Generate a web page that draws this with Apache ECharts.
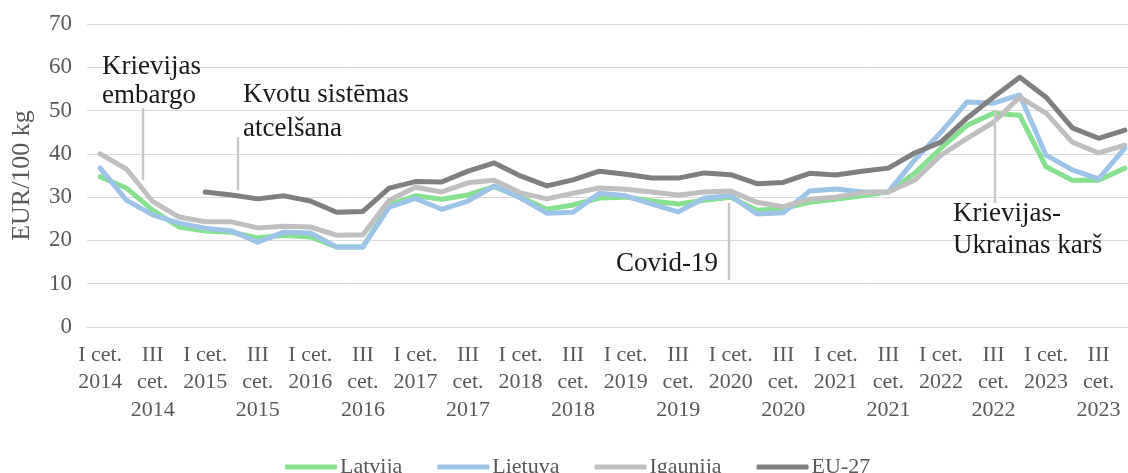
<!DOCTYPE html>
<html>
<head>
<meta charset="utf-8">
<script src="https://cdn.jsdelivr.net/npm/echarts@6/dist/echarts.min.js"></script>
<style>
  html, body { margin: 0; padding: 0; background: #fff; }
  #main { width: 1128px; height: 473px; }
</style>
</head>
<body>
<div id="main"></div>
<script>
// quarterly prices, EUR/100 kg
var quarters = [
  'I cet. 2014', 'II cet. 2014', 'III cet. 2014', 'IV cet. 2014',
  'I cet. 2015', 'II cet. 2015', 'III cet. 2015', 'IV cet. 2015',
  'I cet. 2016', 'II cet. 2016', 'III cet. 2016', 'IV cet. 2016',
  'I cet. 2017', 'II cet. 2017', 'III cet. 2017', 'IV cet. 2017',
  'I cet. 2018', 'II cet. 2018', 'III cet. 2018', 'IV cet. 2018',
  'I cet. 2019', 'II cet. 2019', 'III cet. 2019', 'IV cet. 2019',
  'I cet. 2020', 'II cet. 2020', 'III cet. 2020', 'IV cet. 2020',
  'I cet. 2021', 'II cet. 2021', 'III cet. 2021', 'IV cet. 2021',
  'I cet. 2022', 'II cet. 2022', 'III cet. 2022', 'IV cet. 2022',
  'I cet. 2023', 'II cet. 2023', 'III cet. 2023', 'IV cet. 2023'
];
var latvija = [34.7, 32.1, 27.0, 23.1, 22.2, 21.9, 20.6, 21.2, 20.8, 18.5, 18.5, 28.2,
  30.3, 29.5, 30.5, 32.4, 30.0, 27.2, 28.2, 29.8, 30.0, 29.1, 28.4, 29.3,
  30.0, 27.0, 27.4, 28.8, 29.5, 30.3, 31.2, 35.5, 41.3, 46.6, 49.4, 48.9,
  37.0, 33.9, 33.9, 36.7];
var lietuva = [36.7, 29.3, 25.9, 24.0, 22.8, 22.2, 19.6, 21.9, 21.7, 18.5, 18.5, 27.7,
  29.7, 27.2, 29.1, 32.6, 29.8, 26.3, 26.5, 30.9, 30.3, 28.4, 26.6, 29.8,
  30.3, 26.1, 26.4, 31.4, 31.9, 31.2, 31.2, 38.6, 45.0, 52.0, 51.7, 53.6,
  39.7, 36.3, 34.2, 41.3];
var igaunija = [40.0, 36.5, 29.0, 25.4, 24.3, 24.3, 22.9, 23.3, 23.1, 21.2, 21.3, 29.3,
  32.3, 31.2, 33.3, 33.9, 31.0, 29.6, 30.9, 32.1, 31.8, 31.2, 30.5, 31.2,
  31.4, 28.8, 27.8, 29.5, 30.0, 31.0, 31.2, 33.9, 39.7, 43.6, 47.3, 53.1,
  49.4, 42.7, 40.2, 42.0];
var eu27 = [null, null, null, null, 31.2, 30.5, 29.6, 30.3, 29.1, 26.5, 26.7, 32.1,
  33.6, 33.5, 36.0, 37.9, 34.9, 32.6, 34.0, 36.0, 35.3, 34.4, 34.4, 35.6,
  35.2, 33.1, 33.4, 35.5, 35.1, 36.0, 36.7, 40.2, 42.7, 48.3, 53.1, 57.7,
  53.1, 46.0, 43.6, 45.5];

var serif = '"Liberation Serif", "Times New Roman", serif';
var chart = echarts.init(document.getElementById('main'));

function lineSeries(name, data, color) {
  return {
    name: name,
    type: 'line',
    data: data,
    symbol: 'none',
    connectNulls: false,
    lineStyle: { color: color, width: 5, join: 'round', cap: 'round' },
    itemStyle: { color: color }
  };
}

function callout(x, y1, y2) {
  return {
    type: 'line',
    shape: { x1: x, y1: y1, x2: x, y2: y2 },
    style: { stroke: '#c8c8c8', lineWidth: 2.5 },
    z: 100
  };
}
function note(text, x, y, align) {
  return {
    type: 'text',
    x: x, y: y,
    style: { text: text, font: '27px ' + serif, fill: '#1a1a1a', align: align || 'left', verticalAlign: 'middle' },
    z: 100
  };
}

var option = {
  animation: false,
  textStyle: { fontFamily: serif },
  grid: { left: 87, top: 24, width: 1051, bottom: 146, outerBoundsMode: 'none', containLabel: false },
  legend: {
    left: 280,
    top: 451,
    itemWidth: 52,
    itemHeight: 5,
    itemGap: 35,
    icon: 'roundRect',
    textStyle: { fontFamily: serif, fontSize: 22, color: '#595959', padding: [0, 0, 0, -2] },
    data: ['Latvija', 'Lietuva', 'Igaunija', 'EU-27']
  },
  xAxis: {
    type: 'category',
    data: quarters,
    boundaryGap: true,
    axisTick: { show: false },
    axisLine: { lineStyle: { color: '#d9d9d9', width: 1 } },
    axisLabel: {
      interval: 1,
      margin: 14,
      fontFamily: serif,
      fontSize: 22,
      lineHeight: 27.5,
      color: '#595959',
      formatter: function (v) {
        var p = v.split(' ');
        if (p[0] === 'I') return p[0] + ' ' + p[1] + '\n' + p[2];
        return p[0] + '\n' + p[1] + '\n' + p[2];
      }
    }
  },
  yAxis: {
    type: 'value',
    min: 0,
    max: 70,
    interval: 10,
    name: 'EUR/100 kg',
    nameLocation: 'middle',
    nameRotate: 90,
    nameGap: 52,
    nameTextStyle: { fontFamily: serif, fontSize: 26, color: '#595959' },
    axisLine: { show: false },
    axisTick: { show: false },
    splitLine: { lineStyle: { color: '#d9d9d9', width: 1 } },
    axisLabel: { margin: 15, fontFamily: serif, fontSize: 23, color: '#595959' }
  },
  series: [
    lineSeries('Latvija', latvija, '#86e08f'),
    lineSeries('Lietuva', lietuva, '#9dc3e6'),
    lineSeries('Igaunija', igaunija, '#bfbfbf'),
    lineSeries('EU-27', eu27, '#7f7f7f')
  ],
  graphic: [
    callout(143, 108, 180),
    note('Krievijas', 102, 67),
    note('embargo', 102, 96),
    callout(238, 137, 190),
    note('Kvotu sistēmas', 243, 95),
    note('atcelšana', 243, 129),
    callout(729, 203, 280),
    note('Covid-19', 718, 264, 'right'),
    callout(995, 110, 203),
    note('Krievijas-', 953, 214),
    note('Ukrainas karš', 953, 246)
  ]
};

chart.setOption(option);
</script>
</body>
</html>
